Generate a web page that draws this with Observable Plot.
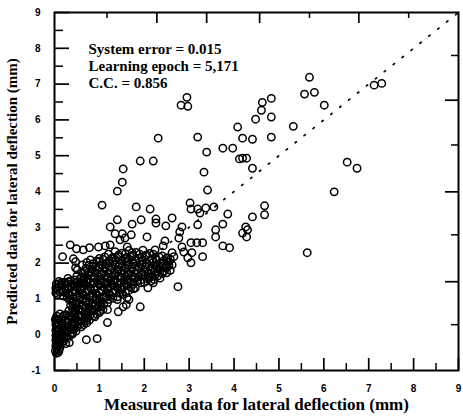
<!DOCTYPE html>
<html><head><meta charset="utf-8">
<script src="https://cdn.jsdelivr.net/npm/d3@7"></script>
<script src="https://cdn.jsdelivr.net/npm/@observablehq/plot@0.6"></script>
<style>body{margin:0;background:#fff} svg{display:block}</style>
</head><body><div id="chart"></div>
<script>
const xTicks = [0,1,2,3,4,5,6,7,8,9];
const yTicks = [-1,0,1,2,3,4,5,6,7,8,9];
const xMinor = [0.5,1.5,2.5,3.5,4.5,5.5,6.5,7.5,8.5];
const yMinor = [-0.5,0.5,1.5,2.5,3.5,4.5,5.5,6.5,7.5,8.5];
const topTicksLong = [2.28,3.39,4.57,6.78];
const topTicksShort = [1.17,5.68,7.89];
const rightTicksLong = [6.55,3.99,1.48];
const rightTicksShort = [7.80,5.30,2.79,0.28];
const stats = ["System error = 0.015","Learning epoch = 5,171","C.C. = 0.856"];
const xLabel = "Measured data for lateral deflection (mm)";
const yLabel = "Predicted data for lateral deflection (mm)";
const identity = [0, 9];

// [measured, predicted] — scattered, individually readable circles
const scatteredPoints = [
[5.68,7.19],[5.57,6.72],[5.79,6.77],[6.01,6.41],[7.12,6.97],[7.29,7.02],
[2.95,6.63],[2.82,6.41],[2.97,6.38],
[4.63,6.49],[4.83,6.60],[4.61,6.27],[4.83,6.08],[4.48,6.02],[4.08,5.80],[5.32,5.82],
[3.19,5.52],[2.31,5.49],[4.19,5.49],[4.41,5.46],[4.83,5.52],
[4.19,4.93],[4.28,4.93],[4.41,4.65],[6.52,4.82],[6.74,4.65],[6.23,3.99],
[4.68,3.60],[4.68,3.35],[4.41,3.29],[4.26,3.01],[4.30,2.93],[4.19,2.84],[4.28,2.73],
[5.63,2.29],
[3.39,5.10],[3.75,5.21],[3.97,5.21],[4.12,4.91],
[2.20,4.85],[1.91,4.85],[1.53,4.63],[1.51,4.26],[1.40,4.01],[1.06,3.62],[1.82,3.57],[2.13,3.51],
[3.33,4.54],[3.41,4.04],[3.02,3.68],[3.04,3.51],[3.19,3.51],[3.37,3.54],[3.55,3.57],[3.24,3.40],[3.86,3.37],
[2.26,3.23],[2.26,3.12],[2.62,3.26],[2.48,3.04],[2.84,3.01],[2.79,2.87],[3.19,3.07],[3.75,3.09],[3.59,2.93],[3.59,2.73],
[2.77,2.70],[2.46,2.62],[2.42,2.48],[2.24,2.37],[3.04,2.57],[3.17,2.57],[3.30,2.57],[2.84,2.45],[2.88,2.31],[3.06,2.29],[2.97,2.15],[3.30,2.18],[3.75,2.48],[3.90,2.43],
[2.62,2.29],[2.51,2.15],[2.55,2.04],[2.66,2.18],[3.04,2.01],[2.28,1.90],
[2.20,1.45],[2.08,1.31],[2.75,1.34],[2.13,1.62],
[1.40,3.21],[1.24,3.01],[1.73,3.09],[1.93,3.21],
[1.35,2.82],[1.51,2.82],[1.57,2.70],[1.71,2.79],[2.06,2.73],
[0.35,2.51],[0.49,2.40],[0.64,2.37],[0.78,2.43],[0.98,2.45],[1.13,2.48],[1.24,2.51],[1.46,2.65],[1.62,2.45],[1.73,2.29],
[0.18,2.18],[0.42,2.12],[0.47,1.87],[0.62,1.95],
[0.31,1.48],[0.44,1.34],[0.71,1.48],[0.47,2.04],[0.51,1.81],
[1.18,0.89],[1.18,0.70],[1.40,0.98],[1.60,0.84],[1.66,0.98],[1.91,0.78],[1.80,1.31],
[0.71,-0.14],[0.95,-0.11],[0.33,-0.22],[0.22,0.14],[0.31,1.12],[0.64,1.45],[0.75,1.53],
[1.18,0.34],[1.42,0.64],[1.53,0.78],[1.62,1.03],[1.46,1.17],[0.40,0.06],[0.02,0.42]
];

// [measured, predicted] — dense overlapping mass near the origin
const clusterPoints = [
[1.35,2.32],[1.5,2.28],[1.66,2.35],[1.82,2.3],[1.97,2.36],[2.12,2.27],
[1.2,2.25],[1.43,2.23],[1.58,2.26],[1.74,2.22],[1.9,2.25],[2.05,2.23],[2.2,2.25],
[1.12,2.17],[1.27,2.12],[1.42,2.18],[1.57,2.13],[1.73,2.19],[1.88,2.14],[2.03,2.2],[2.18,2.12],[2.33,2.17],[2.5,2.13],
[0.8,2.09],[0.94,2.06],[1.08,2.1],[1.22,2.07],[1.36,2.09],[1.5,2.06],[1.66,2.1],[1.8,2.07],[1.96,2.09],[2.12,2.06],[2.27,2.09],[2.43,2.07],[2.58,2.1],
[0.72,2.02],[0.86,1.98],[1.0,2.04],[1.15,1.99],[1.3,2.03],[1.45,1.97],[1.6,2.02],[1.75,1.98],[1.9,2.03],[2.05,1.97],[2.2,2.02],[2.36,1.98],[2.52,2.02],[2.62,1.95],
[0.77,1.94],[0.92,1.91],[1.06,1.95],[1.2,1.92],[1.35,1.95],[1.5,1.91],[1.65,1.94],[1.8,1.92],[1.95,1.95],[2.1,1.91],[2.25,1.94],[2.4,1.92],[2.55,1.93],
[0.7,1.86],[0.84,1.83],[0.98,1.88],[1.12,1.84],[1.27,1.87],[1.42,1.82],[1.57,1.87],[1.72,1.84],[1.87,1.88],[2.02,1.83],[2.17,1.87],[2.32,1.84],[2.47,1.86],[2.58,1.8],
[0.68,1.79],[0.82,1.76],[0.95,1.8],[1.1,1.77],[1.25,1.8],[1.4,1.76],[1.55,1.79],[1.7,1.77],[1.85,1.8],[2.0,1.76],[2.15,1.79],[2.3,1.77],[2.45,1.78],
[0.62,1.72],[0.76,1.68],[0.9,1.73],[1.05,1.69],[1.2,1.72],[1.35,1.68],[1.5,1.73],[1.65,1.69],[1.8,1.72],[1.95,1.68],[2.1,1.72],[2.25,1.68],[2.4,1.71],
[0.5,1.64],[0.66,1.61],[0.82,1.65],[0.97,1.62],[1.12,1.65],[1.27,1.61],[1.42,1.64],[1.57,1.62],[1.72,1.65],[1.87,1.61],[2.02,1.64],[2.17,1.62],[2.3,1.64],
[0.3,1.57],[0.45,1.53],[0.58,1.57],[0.73,1.54],[0.88,1.58],[1.02,1.54],[1.17,1.57],[1.32,1.53],[1.47,1.58],[1.62,1.54],[1.77,1.57],[1.92,1.53],[2.07,1.56],[2.22,1.54],[2.35,1.58],
[0.1,1.49],[0.22,1.46],[0.36,1.5],[0.5,1.47],[0.65,1.5],[0.8,1.46],[0.95,1.49],[1.1,1.47],[1.25,1.5],[1.4,1.46],[1.55,1.49],[1.7,1.47],[1.85,1.49],[2.0,1.46],[2.15,1.5],
[0.04,1.42],[0.16,1.38],[0.28,1.43],[0.42,1.39],[0.56,1.42],[0.7,1.38],[0.85,1.43],[1.0,1.39],[1.15,1.42],[1.3,1.38],[1.45,1.43],[1.6,1.39],[1.75,1.41],
[0.1,1.34],[0.23,1.31],[0.36,1.35],[0.5,1.32],[0.65,1.35],[0.8,1.31],[0.95,1.34],[1.1,1.32],[1.25,1.35],[1.4,1.31],[1.55,1.34],[1.7,1.32],
[0.05,1.26],[0.18,1.22],[0.3,1.27],[0.45,1.23],[0.6,1.27],[0.75,1.22],[0.9,1.26],[1.05,1.23],[1.2,1.27],[1.35,1.22],[1.5,1.26],[1.65,1.23],
[0.12,1.19],[0.25,1.16],[0.4,1.2],[0.55,1.17],[0.7,1.2],[0.85,1.16],[1.0,1.19],[1.15,1.17],[1.3,1.19],[1.45,1.16],[1.58,1.2],
[0.06,1.12],[0.2,1.08],[0.35,1.11],[0.5,1.07],[0.65,1.12],[0.8,1.08],[0.95,1.11],[1.1,1.07],[1.25,1.1],[1.4,1.06],
[0.28,1.04],[0.42,1.01],[0.56,1.05],[0.7,1.02],[0.85,1.05],[1.0,1.01],[1.15,1.04],[1.3,1.02],
[0.33,0.97],[0.48,0.93],[0.62,0.97],[0.77,0.93],[0.92,0.97],[1.05,0.93],
[0.4,0.89],[0.55,0.86],[0.7,0.9],[0.85,0.87],[0.98,0.9],[1.1,0.86],
[0.36,0.82],[0.5,0.78],[0.64,0.82],[0.78,0.78],[0.92,0.82],[1.05,0.78],
[0.4,0.74],[0.54,0.71],[0.68,0.75],[0.82,0.71],[0.95,0.74],[1.08,0.7],
[0.32,0.67],[0.46,0.63],[0.6,0.67],[0.74,0.63],[0.88,0.67],[1.0,0.62],
[0.12,0.58],[0.25,0.56],[0.39,0.6],[0.53,0.56],[0.67,0.59],[0.8,0.56],[0.94,0.58],
[0.05,0.52],[0.18,0.48],[0.32,0.52],[0.46,0.48],[0.6,0.52],[0.74,0.48],[0.86,0.52],
[0.1,0.43],[0.24,0.41],[0.38,0.44],[0.52,0.4],[0.66,0.43],[0.78,0.41],
[0.04,0.36],[0.16,0.33],[0.3,0.37],[0.44,0.33],[0.58,0.37],[0.72,0.33],
[0.1,0.28],[0.24,0.26],[0.38,0.29],[0.52,0.25],[0.65,0.28],
[0.05,0.22],[0.18,0.18],[0.32,0.22],[0.46,0.18],[0.6,0.22],
[0.1,0.13],[0.23,0.11],[0.36,0.14],[0.48,0.1],
[0.04,0.06],[0.16,0.03],[0.29,0.07],[0.4,0.02],
[0.1,-0.01],[0.22,-0.04],[0.35,-0.02],
[0.05,-0.08],[0.17,-0.12],[0.3,-0.09],
[0.09,-0.16],[0.2,-0.19],
[0.04,-0.24],[0.13,-0.28],
[0.08,-0.31],
[0.05,-0.38],[0.1,-0.45],
[0.04,-0.52]
];

// [measured, predicted] — further overlapping circles inside the dense mass
const clusterFill = [
[1.0,2.13],[1.3,2.16],[1.6,2.15],[1.95,2.17],[2.25,2.14],[2.4,2.2],
[0.85,1.9],[1.13,1.88],[1.43,1.9],[1.73,1.89],[2.03,1.9],[2.33,1.89],[2.5,1.9],
[0.75,1.74],[1.03,1.75],[1.33,1.73],[1.63,1.75],[1.93,1.74],[2.23,1.75],[2.5,1.73],
[0.6,1.6],[0.9,1.59],[1.2,1.6],[1.5,1.59],[1.8,1.6],[2.1,1.59],
[0.15,1.45],[0.45,1.44],[0.72,1.45],[1.03,1.44],[1.33,1.45],[1.63,1.44],[1.92,1.45],
[0.03,1.3],[0.3,1.3],[0.58,1.29],[0.88,1.3],[1.18,1.29],[1.47,1.3],[1.76,1.28],
[0.03,1.17],[0.32,1.15],[0.62,1.14],[0.92,1.15],[1.22,1.14],[1.52,1.13],
[0.36,1.0],[0.64,0.99],[0.93,1.0],[1.2,0.98],
[0.47,0.85],[0.76,0.84],[1.03,0.85],
[0.47,0.69],[0.75,0.68],[1.02,0.67],
[0.2,0.53],[0.46,0.55],[0.72,0.54],[0.9,0.5],
[0.03,0.45],[0.17,0.4],[0.45,0.39],[0.7,0.39],
[0.03,0.29],[0.16,0.25],[0.43,0.25],[0.58,0.3],
[0.03,0.13],[0.17,0.1],[0.3,0.12],[0.42,0.15],
[0.03,-0.02],[0.14,-0.05],[0.26,-0.06],
[0.03,-0.15],[0.12,-0.2],[0.25,-0.25],
[0.03,-0.32],[0.12,-0.36],
[0.08,-0.5],[0.02,-0.45]
];

const W = 463, H = 417, mL = 54, mR = 5, mT = 12, mB = 47;
const fw = W - mL - mR, fh = H - mT - mB;
const serif = "'Liberation Serif', 'DejaVu Serif', serif";
const sans = "'Liberation Sans', Arial, sans-serif";
const allPoints = scatteredPoints.concat(clusterPoints, clusterFill);

const chart = Plot.plot({
  width: W, height: H,
  marginLeft: mL, marginRight: mR, marginTop: mT, marginBottom: mB,
  x: {domain: [0, 9]},
  y: {domain: [-1, 9]},
  style: {background: "white", color: "black", fontFamily: sans},
  marks: [
    Plot.axisX({ticks: xTicks, tickSize: 0, tickPadding: 14, tickFormat: d => String(d), fontSize: 10, fontWeight: "bold", label: null}),
    Plot.axisY({ticks: yTicks, tickSize: 0, tickPadding: 14, tickFormat: d => String(d), fontSize: 10, fontWeight: "bold", label: null}),
    // bottom ticks (inward)
    Plot.tickX(xTicks, {x: d => d, insetTop: fh - 12, strokeWidth: 1.7, stroke: "black"}),
    Plot.tickX(xMinor, {x: d => d, insetTop: fh - 7, strokeWidth: 1.5, stroke: "black"}),
    // left ticks (inward)
    Plot.tickY(yTicks, {y: d => d, insetRight: fw - 15, strokeWidth: 1.7, stroke: "black"}),
    Plot.tickY(yMinor, {y: d => d, insetRight: fw - 9, strokeWidth: 1.5, stroke: "black"}),
    // top ticks
    Plot.tickX(topTicksLong, {x: d => d, insetBottom: fh - 11, strokeWidth: 1.7, stroke: "black"}),
    Plot.tickX(topTicksShort, {x: d => d, insetBottom: fh - 6, strokeWidth: 1.5, stroke: "black"}),
    // right ticks
    Plot.tickY(rightTicksLong, {y: d => d, insetLeft: fw - 13, strokeWidth: 1.7, stroke: "black"}),
    Plot.tickY(rightTicksShort, {y: d => d, insetLeft: fw - 7, strokeWidth: 1.5, stroke: "black"}),
    Plot.frame({stroke: "black", strokeWidth: 2}),
    Plot.line(identity, {x: d => d, y: d => d, stroke: "black", strokeWidth: 1.7, strokeDasharray: "1.6,9.8"}),
    Plot.dot(allPoints, {x: d => d[0], y: d => d[1], r: 3.7, stroke: "black", strokeWidth: 1.5, fill: "none"}),
    ...stats.map((s, i) => Plot.text([s], {text: d => d, frameAnchor: "top-left", dx: 34, dy: 37 + i * 17, textAnchor: "start", lineAnchor: "middle", fontSize: 15, fontWeight: "bold", fontFamily: serif, fill: "black"})),
    Plot.text([xLabel], {text: d => d, frameAnchor: "bottom", dy: 34, textAnchor: "middle", lineAnchor: "middle", fontSize: 17, fontWeight: "bold", fontFamily: serif, fill: "black"}),
    Plot.text([yLabel], {text: d => d, frameAnchor: "left", dx: -42, rotate: -90, textAnchor: "middle", lineAnchor: "middle", fontSize: 15, fontWeight: "bold", fontFamily: serif, fill: "black"})
  ]
});
document.getElementById("chart").appendChild(chart);
</script>
</body></html>
